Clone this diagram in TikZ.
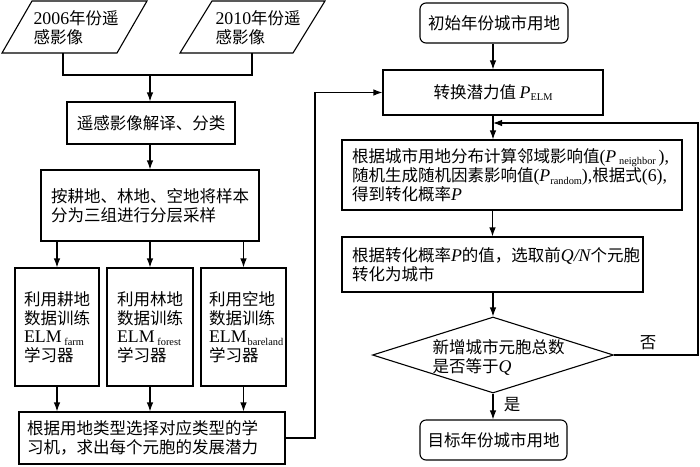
\documentclass[tikz,border=0pt]{standalone}
\usepackage{fontspec}
\setmainfont{Liberation Serif}[Scale=1.08]
\newfontfamily\cjk{Noto Sans CJK SC}
\usetikzlibrary{arrows.meta,shapes.geometric,calc}
\newcommand\lt[1]{{\rmfamily #1}}
\newcommand\vp{{\rmfamily\itshape P}}
\newcommand\sbs[1]{\raisebox{-2.5pt}{\rmfamily\upshape\fontsize{9.6}{9.6}\selectfont #1}}
\begin{document}
\begin{tikzpicture}[x=1pt,y=-1pt,line width=1.1pt,
  every node/.style={font=\cjk\fontsize{16.5}{18.5}\selectfont, inner sep=0pt},
  arr/.style={-{Latex[length=9pt,width=6.5pt]}},
  boxc/.style={draw, rectangle, align=center},
  boxl/.style={draw, rectangle, align=left},
  rbox/.style={draw, rectangle, rounded corners=6pt, align=center},
  lbl/.style={align=left}]
\useasboundingbox (0,0) rectangle (700,466);

% input parallelograms
\draw (2,53) -- (117,53) -- (147,1) -- (32,1) -- cycle;
\draw (180,53) -- (293,53) -- (325,1) -- (212,1) -- cycle;
\node[lbl, anchor=west] (t1) at (33,27.5) {\lt{2006}年份遥\\感影像};
\node[lbl, anchor=west] (t2) at (215,27.5) {\lt{2010}年份遥\\感影像};
\coordinate (p1b) at (63,53);
\coordinate (p2b) at (252,53);
\coordinate (j) at (150,75);

% left column
\node[boxc, minimum width=168pt, minimum height=42pt] (b1) at (151,123) {遥感影像解译、分类};
\node[boxl, minimum height=71pt, text width=198pt, inner xsep=10pt] (b2) at (150,205.5)
  {按耕地、林地、空地将样本\\分为三组进行分层采样};
\node[boxl, minimum height=118pt, text width=66pt, inner xsep=9pt] (b3a) at (57,327)
  {利用耕地\\数据训练\\\lt{ELM}\,\sbs{farm}\\学习器};
\node[boxl, minimum height=118pt, text width=66pt, inner xsep=10pt] (b3b) at (150,327)
  {利用林地\\数据训练\\\lt{ELM}\,\sbs{forest}\\学习器};
\node[boxl, minimum height=118pt, text width=69pt, inner xsep=8pt] (b3c) at (243.5,327)
  {利用空地\\数据训练\\\lt{ELM}\kern1pt\sbs{bareland}\\学习器};
\node[boxl, minimum height=52pt, text width=250pt, inner xsep=8pt] (b4) at (152,438)
  {根据用地类型选择对应类型的学\\习机，求出每个元胞的发展潜力};
\coordinate (c1) at (315,0);

% right column
\node[rbox, minimum width=148pt, minimum height=40pt] (r1) at (494,23) {初始年份城市用地};
\node[boxc, minimum width=220pt, minimum height=45pt] (b5) at (493,92.5) {转换潜力值 \vp\sbs{ELM}};
\node[boxl, minimum height=70pt, text width=320pt, inner xsep=10pt] (b6) at (512,175)
  {根据城市用地分布计算邻域影响值\lt{(}\vp\,\sbs{neighbor}\,\lt{),}\\随机生成随机因素影响值\lt{(}\vp\sbs{random}\lt{),}根据式\lt{(6),}\\得到转化概率\vp};
\node[boxl, minimum height=55pt, text width=281pt, inner xsep=10pt] (b7) at (492.5,264.5)
  {根据转化概率\vp 的值，选取前\lt{\itshape Q/N}个元胞\\转化为城市};
\node[draw, diamond, minimum width=241pt, minimum height=76pt] (d) at (493,355) {};
\node[lbl, anchor=west] (dt) at (432,357.5) {新增城市元胞总数\\是否等于\lt{\itshape Q}};
\node[rbox, minimum width=147pt, minimum height=40pt] (r2) at (493.5,440) {目标年份城市用地};
\node (no) at (648,343) {否};
\node (yes) at (512,405) {是};
\coordinate (fb) at (698,123);

% connectors
\draw (p1b) |- (j) -| (p2b);
\draw[arr] (j) -- (j |- b1.north);
\draw[arr] (b1.south -| b2.north) -- (b2.north);
\foreach \b in {b3a,b3b,b3c}{
  \draw[arr] (\b.north |- b2.south) -- (\b.north);
  \draw[arr] (\b.south) -- (\b.south |- b4.north);
}
\draw[arr] (b4.east) -- (b4.east -| c1) |- (b5.west);
\draw[arr] (r1.south -| b5.north) -- (b5.north);
\draw[arr] (b5.south) -- (b5.south |- b6.north);
\draw[arr] (b7.north |- b6.south) -- (b7.north);
\draw[arr] (b7.south -| d.north) -- (d.north);
\draw[arr] (d.south) -- (d.south |- r2.north);
\draw[arr] (d.east) -| (fb) -- (fb -| b5.south);
\end{tikzpicture}
\end{document}
